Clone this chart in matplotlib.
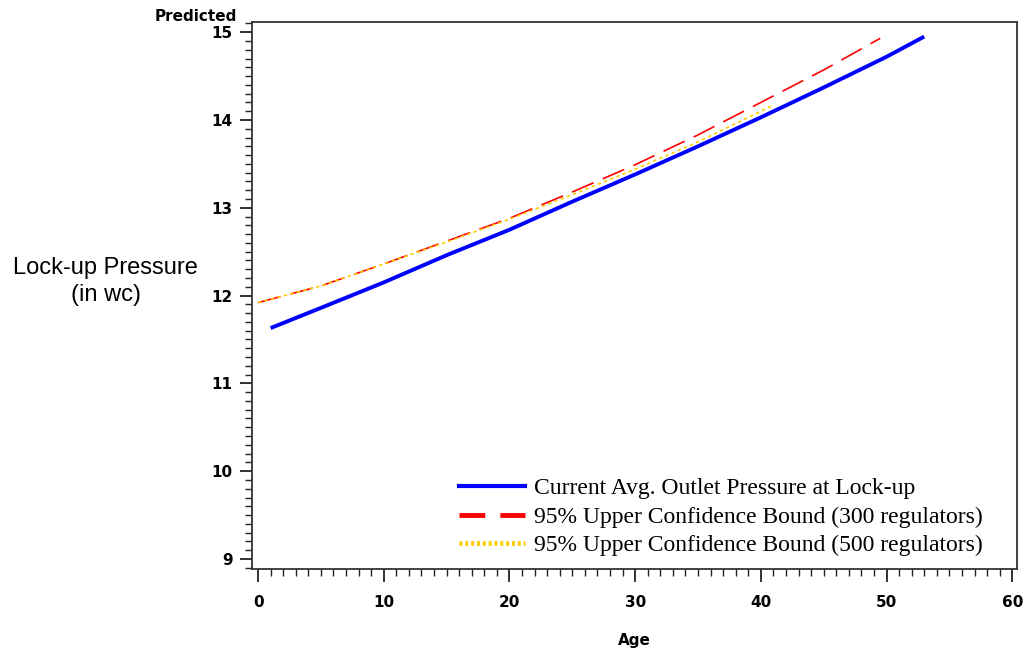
import matplotlib
matplotlib.use("Agg")
import matplotlib.pyplot as plt
from matplotlib.lines import Line2D
from matplotlib.ticker import MultipleLocator

# values
age_avg = [1, 5, 10, 15, 20, 25, 30, 35, 40, 45, 50, 53]
press_avg = [11.63, 11.86, 12.15, 12.46, 12.75, 13.07, 13.38, 13.70, 14.03, 14.37, 14.72, 14.95]

age_300 = [0, 5, 10, 15, 20, 25, 30, 35, 40, 45, 49.5]
press_300 = [11.92, 12.11, 12.36, 12.62, 12.88, 13.18, 13.49, 13.83, 14.20, 14.57, 14.93]

age_500 = [0, 5, 10, 15, 20, 25, 30, 35, 41]
press_500 = [11.92, 12.11, 12.36, 12.61, 12.87, 13.15, 13.44, 13.75, 14.17]

labels = ["Current Avg. Outlet Pressure at Lock-up",
          "95% Upper Confidence Bound (300 regulators)",
          "95% Upper Confidence Bound (500 regulators)"]
colors = ["#0000ff", "#ff0000", "#ffcc00"]

tick_font = {"family": "DejaVu Sans", "weight": "bold", "size": 11}

fig = plt.figure(figsize=(10.25, 6.51), dpi=100)
ax = fig.add_axes([0.2459, 0.126, 0.7463, 0.8402])

ax.plot(age_avg, press_avg, color=colors[0], lw=2.8, solid_capstyle="butt")
ax.plot(age_300, press_300, color=colors[1], lw=1.2, dashes=(14, 6))
ax.plot(age_500, press_500, color=colors[2], lw=1.2, dashes=(2, 2))

ax.set_xlim(-0.48, 60.38)
ax.set_ylim(8.886, 15.116)
ax.xaxis.set_major_locator(MultipleLocator(10))
ax.xaxis.set_minor_locator(MultipleLocator(1))
ax.yaxis.set_major_locator(MultipleLocator(1))
ax.yaxis.set_minor_locator(MultipleLocator(0.1))
ax.tick_params(which="major", length=9, width=1.3, color="#222222")
ax.tick_params(which="minor", length=5, width=1.0, color="#222222")
ax.tick_params(axis="x", which="major", pad=10)
ax.tick_params(axis="y", which="major", pad=5)
for lab in ax.get_xticklabels() + ax.get_yticklabels():
    lab.set_fontfamily(tick_font["family"])
    lab.set_fontweight(tick_font["weight"])
    lab.set_fontsize(tick_font["size"])
for s in ax.spines.values():
    s.set_linewidth(1.3)
    s.set_color("#333333")

ax.set_xlabel("Age", fontdict=tick_font, labelpad=16)
fig.text(0.2315, 0.975, "Predicted", ha="right", va="center", **tick_font)
fig.text(0.103, 0.568, "Lock-up Pressure\n(in wc)", ha="center", va="center",
         family="Liberation Sans", fontsize=17, linespacing=1.3)

handles = [Line2D([], [], color=colors[0], lw=3),
           Line2D([], [], color=colors[1], lw=3.5, dashes=(5.3, 3.1)),
           Line2D([], [], color=colors[2], lw=3.5, dashes=(0.6, 0.6))]
leg = ax.legend(handles, labels, loc="lower right", bbox_to_anchor=(0.983, -0.016),
                frameon=False, prop={"family": "Liberation Serif", "size": 17},
                handlelength=2.8, handletextpad=0.38, labelspacing=0.3)

fig.savefig("out.png", dpi=100)
